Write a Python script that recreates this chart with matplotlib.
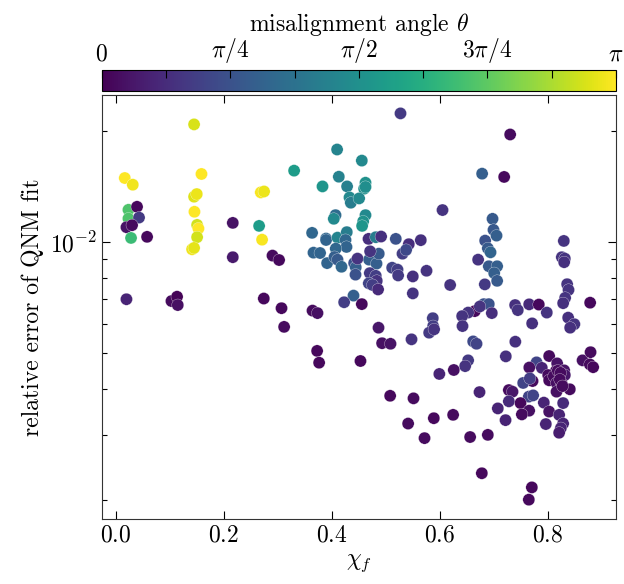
import numpy as np
import matplotlib.pyplot as plt

plt.rcParams['font.family'] = 'serif'
plt.rcParams['font.serif'] = ['cmr10']
plt.rcParams['mathtext.fontset'] = 'cm'
plt.rcParams['axes.formatter.use_mathtext'] = True
plt.rcParams['font.size'] = 17

# final spin, relative error of the fit, misalignment angle (in units of pi)
chi_f = [0.0167, 0.0315, 0.0235, 0.0235, 0.0394, 0.0431, 0.0198, 0.0302, 0.0283, 0.058, 0.0198,
         0.145, 0.1587, 0.145, 0.15, 0.1457, 0.1506, 0.1531, 0.1506, 0.1413, 0.145, 0.1031, 0.1135, 0.1148,
         0.2685, 0.2746, 0.2709, 0.2654, 0.2167, 0.2167, 0.2902, 0.3024, 0.2741, 0.3069, 0.3117, 0.3643,
         0.3735, 0.3728, 0.3765,
         0.3302, 0.4098, 0.4556, 0.413, 0.3828, 0.4283, 0.4624, 0.4598, 0.4624, 0.4328, 0.4352, 0.4506,
         0.4069, 0.4037, 0.4624, 0.458, 0.4561, 0.3635, 0.3894, 0.3894, 0.4106, 0.4278, 0.4254, 0.4272,
         0.4074, 0.3661, 0.3783, 0.3913, 0.405, 0.4106, 0.418, 0.4413, 0.4444, 0.4476, 0.4439, 0.4691,
         0.4828, 0.487, 0.4709, 0.468, 0.4815, 0.4913, 0.5185, 0.5426, 0.5648, 0.5309, 0.5376, 0.5117,
         0.5217, 0.5228, 0.55, 0.5754, 0.4704, 0.4815, 0.4833, 0.4685, 0.4754, 0.4857, 0.4402, 0.4228,
         0.4556, 0.55, 0.5272, 0.605,
         0.4531, 0.4865, 0.4931, 0.5087, 0.5476, 0.587, 0.5876, 0.5802, 0.5894, 0.5991, 0.508, 0.5513,
         0.5413, 0.5889, 0.5717,
         0.6783, 0.7191, 0.7302, 0.6976, 0.6994, 0.705, 0.6839, 0.6889, 0.6939, 0.6709, 0.6907, 0.7061,
         0.7006, 0.7061, 0.6833, 0.6191, 0.8296, 0.8259, 0.8315, 0.8302, 0.8357, 0.8383, 0.832, 0.8283,
         0.8783, 0.7394, 0.7654, 0.7833, 0.6815, 0.6907, 0.6648, 0.6741, 0.6524, 0.6413, 0.642, 0.6963,
         0.7444, 0.7981, 0.7709, 0.8376, 0.8491, 0.8413, 0.6617, 0.668, 0.7398, 0.7222, 0.6524, 0.6469,
         0.6259, 0.8024, 0.7791, 0.7657, 0.7889, 0.8172, 0.8148, 0.8302, 0.8315, 0.8006, 0.8024, 0.7717,
         0.7543, 0.7667, 0.8111, 0.8161, 0.8254, 0.8407, 0.8161, 0.7278, 0.7346, 0.7648, 0.7728, 0.7494,
         0.7278, 0.7926, 0.8283, 0.7074, 0.7654, 0.7519, 0.8024, 0.8209, 0.7217, 0.7963, 0.8283, 0.8241,
         0.8209, 0.6735, 0.6246, 0.6561, 0.6889, 0.6778, 0.7704, 0.7648, 0.8643, 0.8791, 0.8778, 0.8839,
         0.8185, 0.8235, 0.8222, 0.8272]

rel_err = [0.01492, 0.01431, 0.01224, 0.01159, 0.01247, 0.01166, 0.01098, 0.01112, 0.01027, 0.01034, 0.00701,
           0.02084, 0.0153, 0.01328, 0.0135, 0.01209, 0.01114, 0.01089, 0.01032, 0.00957, 0.00965, 0.00693,
           0.00712, 0.00676,
           0.01364, 0.01372, 0.01016, 0.01107, 0.01128, 0.00911, 0.0092, 0.00895, 0.00704, 0.00663, 0.0059,
           0.00653, 0.00643, 0.00508, 0.00472,
           0.01562, 0.01782, 0.01663, 0.01504, 0.01416, 0.01416, 0.01449, 0.01396, 0.01411, 0.01322, 0.01279,
           0.01314, 0.01184, 0.01157, 0.01184, 0.01138, 0.01107, 0.0106, 0.01023, 0.01014, 0.01029, 0.01065,
           0.01014, 0.00971, 0.00961, 0.00937, 0.00935, 0.00878, 0.00912, 0.00897, 0.00858, 0.00878, 0.00855,
           0.00903, 0.00817, 0.00897, 0.00875, 0.00931, 0.00945, 0.01021, 0.01032, 0.01036, 0.01021, 0.00988,
           0.01013, 0.00931, 0.00953, 0.00853, 0.00843, 0.00813, 0.00808, 0.00837, 0.00825, 0.00811, 0.00786,
           0.00774, 0.00766, 0.00745, 0.00717, 0.00688, 0.0068, 0.00727, 0.02232, 0.01222,
           0.00477, 0.00587, 0.00533, 0.00531, 0.00546, 0.00623, 0.00593, 0.00569, 0.00581, 0.0044, 0.00384,
           0.00378, 0.00323, 0.00334, 0.00295,
           0.01533, 0.01502, 0.01957, 0.01157, 0.0108, 0.01042, 0.0101, 0.00963, 0.00939, 0.00897, 0.00861,
           0.00861, 0.00825, 0.00786, 0.00769, 0.00766, 0.01008, 0.00911, 0.00903, 0.00883, 0.0077, 0.00743,
           0.00707, 0.00684, 0.00686, 0.00676, 0.00679, 0.00678, 0.0068, 0.0068, 0.00651, 0.0067, 0.00645,
           0.00631, 0.00593, 0.00643, 0.00655, 0.00645, 0.00603, 0.00625, 0.006, 0.00587, 0.00539, 0.00531,
           0.00538, 0.00491, 0.00479, 0.00462, 0.00451, 0.00492, 0.00473, 0.00458, 0.00457, 0.0047, 0.00448,
           0.0045, 0.00437, 0.00437, 0.00423, 0.00421, 0.00416, 0.00428, 0.00434, 0.00416, 0.00415, 0.004,
           0.00394, 0.00398, 0.00394, 0.00382, 0.00385, 0.00367, 0.00371, 0.00368, 0.00367, 0.00355, 0.0035,
           0.00342, 0.00348, 0.00341, 0.0033, 0.00322, 0.00323, 0.00314, 0.00305, 0.00393, 0.00341, 0.00297,
           0.00301, 0.00237, 0.00217, 0.00201, 0.00479, 0.00504, 0.00467, 0.00459, 0.00449, 0.00443, 0.00425,
           0.00408]

theta_pi = [1.0, 0.98, 0.72, 0.72, 0.02, 0.17, 0.05, 0.03, 0.68, 0.02, 0.1,
            0.94, 1.0, 0.95, 0.97, 1.0, 0.93, 1.0, 0.93, 0.98, 0.96, 0.03, 0.01, 0.04,
            0.99, 0.97, 0.99, 0.55, 0.05, 0.07, 0.03, 0.02, 0.02, 0.02, 0.03, 0.03, 0.04, 0.02, 0.02,
            0.55, 0.45, 0.47, 0.44, 0.52, 0.43, 0.5, 0.5, 0.49, 0.47, 0.42, 0.47, 0.35, 0.47, 0.47, 0.5,
            0.52, 0.33, 0.33, 0.32, 0.45, 0.42, 0.33, 0.32, 0.33, 0.32, 0.32, 0.32, 0.3, 0.28, 0.33, 0.25,
            0.3, 0.15, 0.25, 0.3, 0.3, 0.28, 0.15, 0.13, 0.42, 0.14, 0.25, 0.13, 0.14, 0.18, 0.22, 0.2,
            0.18, 0.17, 0.14, 0.15, 0.17, 0.18, 0.15, 0.2, 0.18, 0.12, 0.3, 0.18, 0.02, 0.15, 0.17, 0.15,
            0.02, 0.06, 0.04, 0.05, 0.15, 0.18, 0.18, 0.17, 0.15, 0.1, 0.02, 0.03, 0.03, 0.02, 0.03,
            0.3, 0.02, 0.03, 0.28, 0.27, 0.3, 0.25, 0.28, 0.32, 0.15, 0.28, 0.3, 0.3, 0.28, 0.17, 0.15,
            0.15, 0.15, 0.15, 0.14, 0.15, 0.15, 0.15, 0.14, 0.02, 0.14, 0.12, 0.02, 0.25, 0.25, 0.02, 0.15,
            0.15, 0.15, 0.15, 0.13, 0.15, 0.15, 0.14, 0.14, 0.15, 0.14, 0.22, 0.2, 0.14, 0.14, 0.17, 0.15,
            0.04, 0.03, 0.2, 0.04, 0.1, 0.05, 0.03, 0.05, 0.06, 0.03, 0.02, 0.03, 0.2, 0.18, 0.03, 0.04,
            0.03, 0.03, 0.04, 0.03, 0.06, 0.2, 0.2, 0.02, 0.12, 0.1, 0.12, 0.1, 0.04, 0.03, 0.05, 0.1,
            0.1, 0.1, 0.1, 0.1, 0.08, 0.1, 0.03, 0.03, 0.03, 0.02, 0.02, 0.02, 0.04, 0.03, 0.03, 0.02,
            0.03, 0.03, 0.03, 0.03]

theta = np.array(theta_pi) * np.pi

fig = plt.figure(figsize=(6.24, 5.84), dpi=100)
ax = fig.add_axes([0.163, 0.111, 0.824, 0.726])
cax = fig.add_axes([0.163, 0.845, 0.824, 0.035])

sc = ax.scatter(chi_f, rel_err, c=theta, cmap='viridis', vmin=0, vmax=np.pi,
                s=76, edgecolors='white', linewidths=0.2)
ax.set_yscale('log')
ax.set_xlim(-0.026, 0.926)
ax.set_ylim(1.78e-3, 2.5e-2)
ax.set_xticks([0.0, 0.2, 0.4, 0.6, 0.8])
ax.set_xlabel(r'$\chi_f$')
ax.set_ylabel('relative error of QNM fit')
ax.tick_params(which='both', direction='in', top=True, right=True)
ax.tick_params(which='major', length=6, width=0.8)
ax.tick_params(which='minor', length=3.5, width=0.8)
ax.tick_params(axis='x', which='minor', bottom=False, top=False)
for sp in ax.spines.values():
    sp.set_color('#333333')

cb = fig.colorbar(sc, cax=cax, orientation='horizontal')
cb.set_ticks([0, np.pi / 4, np.pi / 2, 3 * np.pi / 4, np.pi])
cb.set_ticklabels(['$0$', r'$\pi/4$', r'$\pi/2$', r'$3\pi/4$', r'$\pi$'])
cb.ax.set_xticks([np.pi / 8, 3 * np.pi / 8, 5 * np.pi / 8, 7 * np.pi / 8], minor=True)
cax.xaxis.set_ticks_position('top')
cax.xaxis.set_label_position('top')
cax.tick_params(which='both', direction='in', length=6, width=0.8)
cb.set_label(r'misalignment angle $\theta$')

fig.savefig('out.png', dpi=100)
